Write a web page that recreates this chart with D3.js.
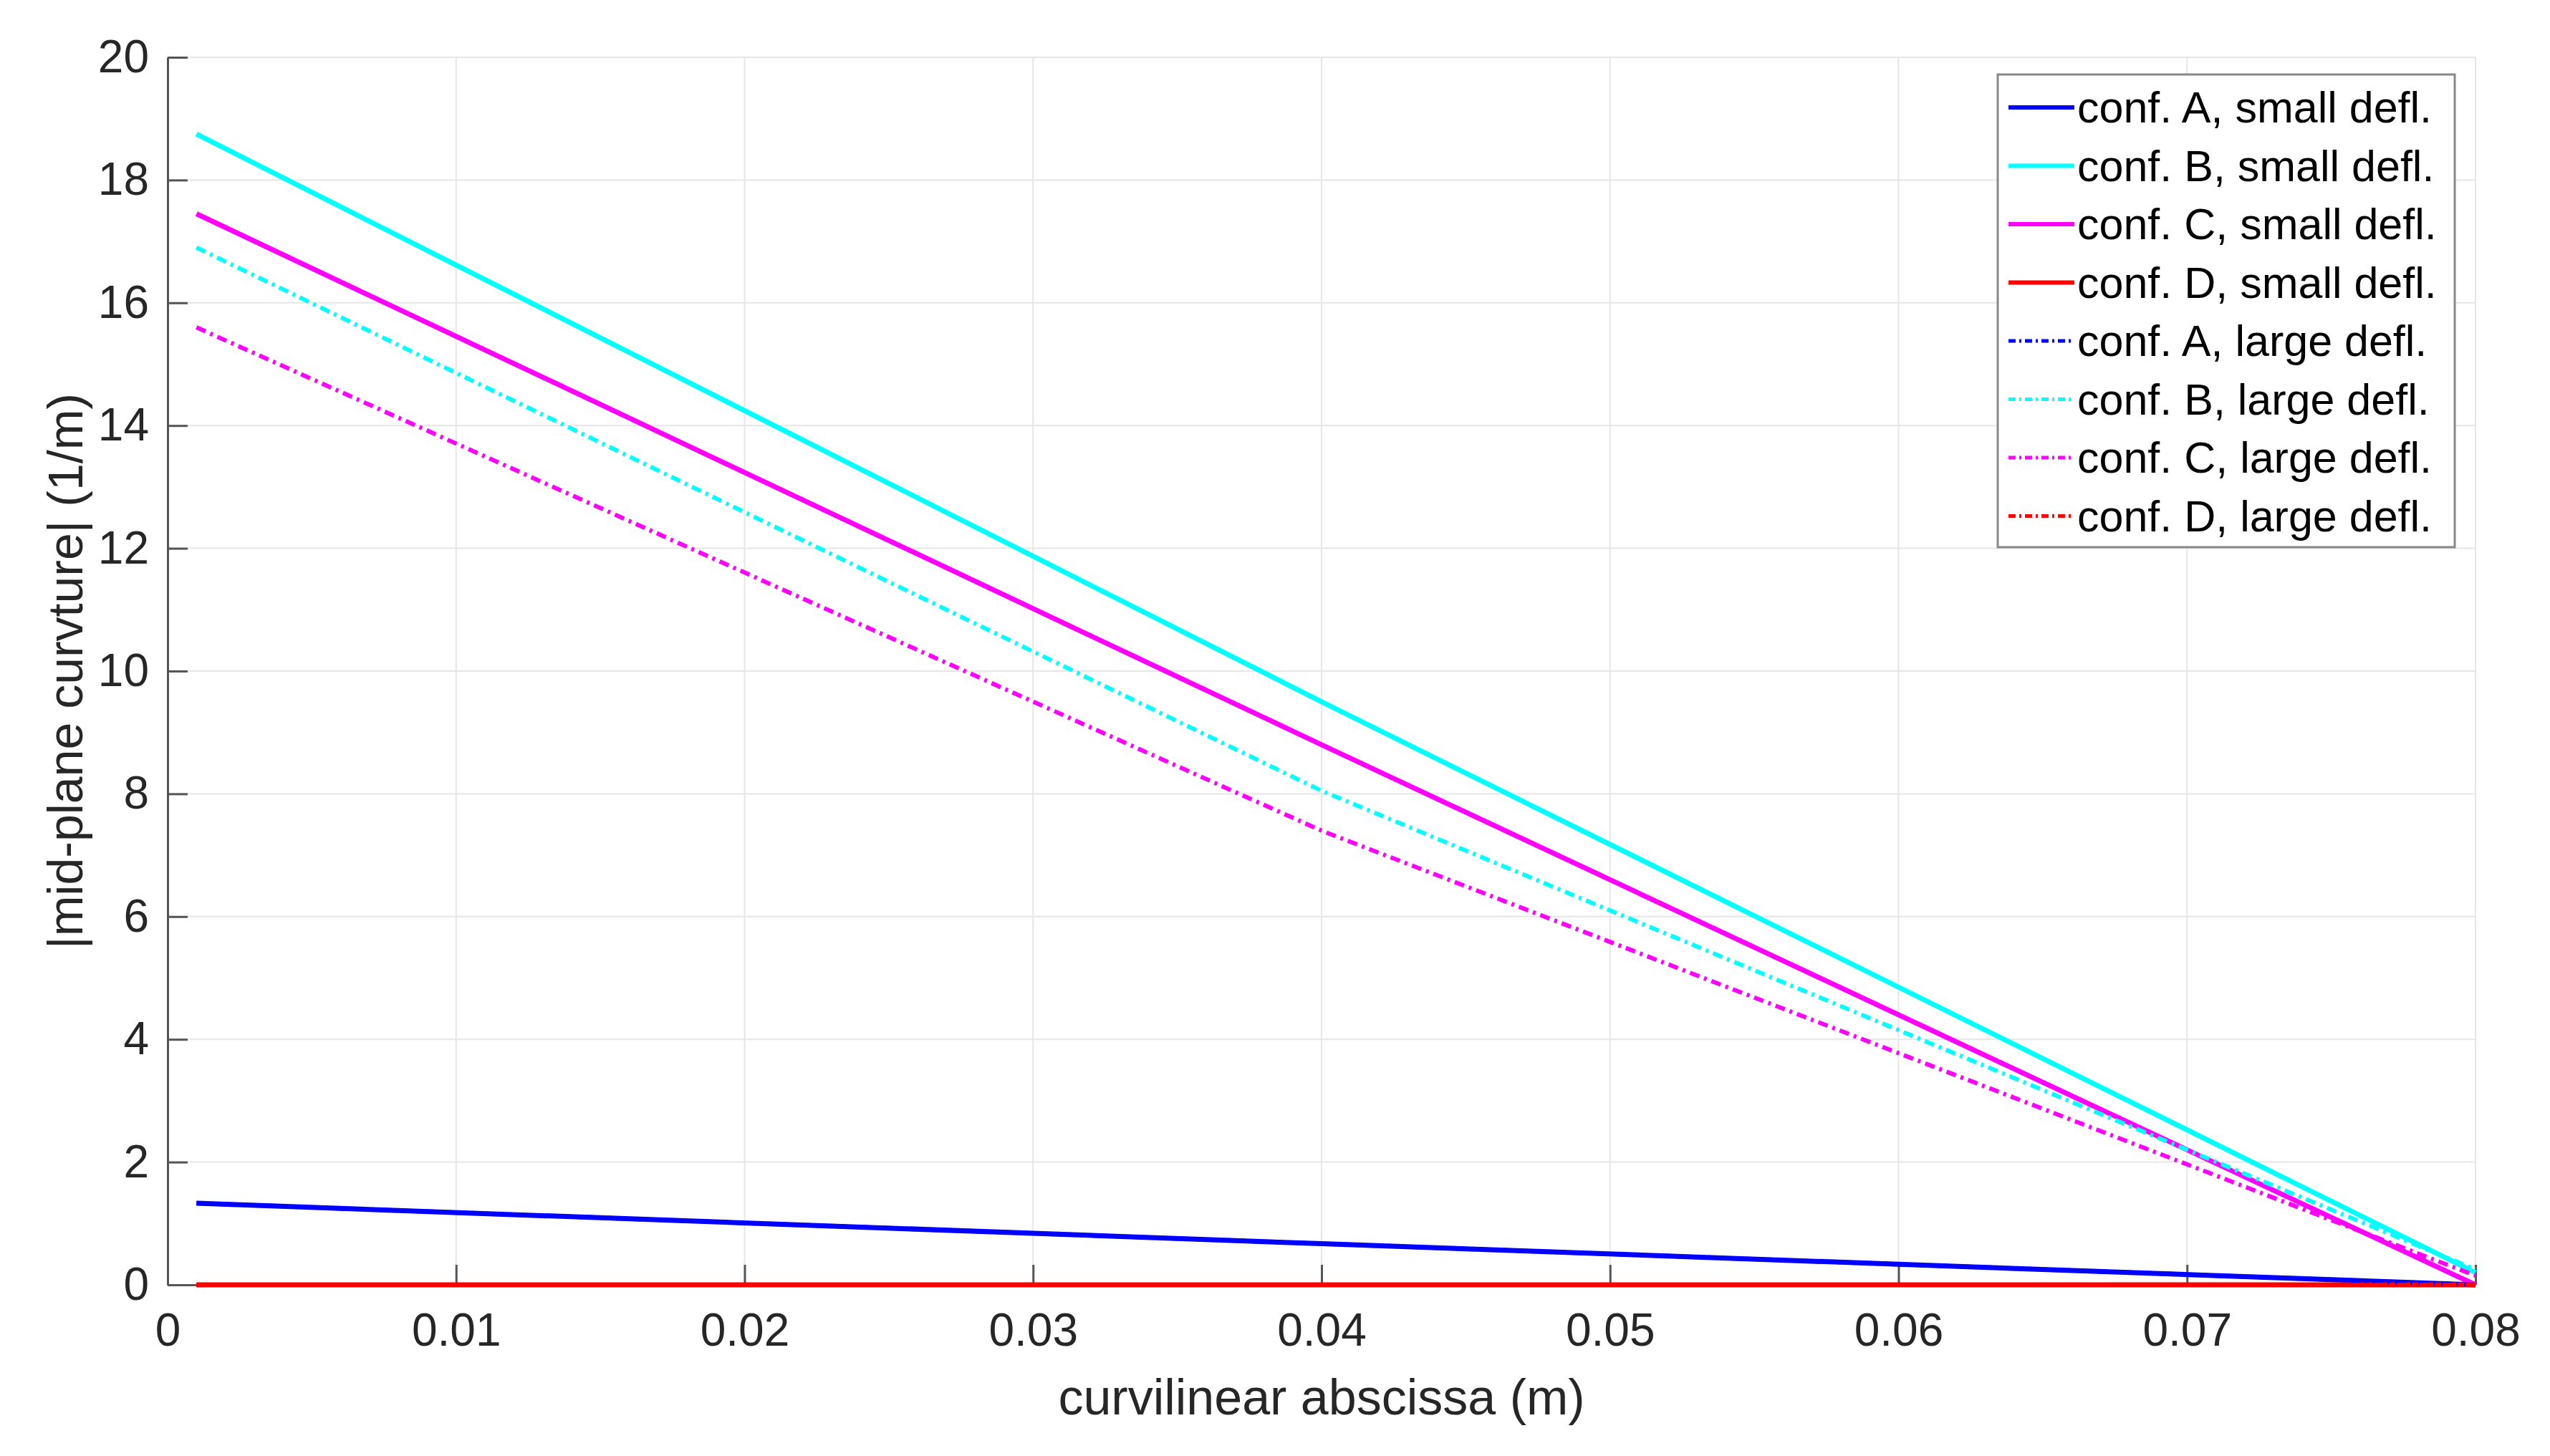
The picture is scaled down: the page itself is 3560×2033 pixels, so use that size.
<!DOCTYPE html>
<html lang="en">
<head>
<meta charset="utf-8">
<script src="https://cdn.jsdelivr.net/npm/d3@7"></script>
<style>body{margin:0;background:#fff}text{font-family:"Liberation Sans",Arial,sans-serif}</style>
</head>
<body>
<script>
// data
var xs = [0.001, 0.04, 0.08];
var aSmall = [1.33, 0.67, 0.0];
var bSmall = [18.75, 9.5, 0.2];
var cSmall = [17.45, 8.8, 0.0];
var dSmall = [0.0, 0.0, 0.0];
var aLarge = [1.33, 0.67, 0.0];
var bLarge = [16.9, 8.05, 0.25];
var cLarge = [15.6, 7.4, 0.15];
var dLarge = [0.0, 0.0, 0.0];
var xTicks = [0, 0.01, 0.02, 0.03, 0.04, 0.05, 0.06, 0.07, 0.08];
var yTicks = [0, 2, 4, 6, 8, 10, 12, 14, 16, 18, 20];

var series = [
  {name: "conf. A, small defl.", v: aSmall, c: "#0000ff", dash: null},
  {name: "conf. B, small defl.", v: bSmall, c: "#00ffff", dash: null},
  {name: "conf. C, small defl.", v: cSmall, c: "#ff00ff", dash: null},
  {name: "conf. D, small defl.", v: dSmall, c: "#ff0000", dash: null},
  {name: "conf. A, large defl.", v: aLarge, c: "#0000ff", dash: "14,7,4,7"},
  {name: "conf. B, large defl.", v: bLarge, c: "#00ffff", dash: "14,7,4,7"},
  {name: "conf. C, large defl.", v: cLarge, c: "#ff00ff", dash: "14,7,4,7"},
  {name: "conf. D, large defl.", v: dLarge, c: "#ff0000", dash: "14,7,4,7"}
];

var W = 3560, H = 2033;
var L = 234, R = 3456, T = 80, B = 1794;
var svg = d3.select("body").append("svg").attr("width", W).attr("height", H);

var x = d3.scaleLinear().domain([0, 0.08]).range([L, R]);
var y = d3.scaleLinear().domain([0, 20]).range([B, T]);

//grid
svg.append("g").selectAll("line").data(xTicks).enter().append("line")
  .attr("x1", d => x(d)).attr("x2", d => x(d)).attr("y1", T).attr("y2", B)
  .attr("stroke", "#e6e6e6").attr("stroke-width", 2);
svg.append("g").selectAll("line").data(yTicks).enter().append("line")
  .attr("x1", L).attr("x2", R).attr("y1", d => y(d)).attr("y2", d => y(d))
  .attr("stroke", "#e6e6e6").attr("stroke-width", 2);

//axes
var xa = svg.append("g").attr("transform", "translate(0," + B + ")")
  .call(d3.axisBottom(x).tickValues(xTicks).tickFormat(d => d === 0 ? "0" : d3.format(".2f")(d)).tickSizeInner(-28).tickSizeOuter(0).tickPadding(40));
var ya = svg.append("g").attr("transform", "translate(" + L + ",0)")
  .call(d3.axisLeft(y).tickValues(yTicks).tickSizeInner(-28).tickSizeOuter(0).tickPadding(26));
[xa, ya].forEach(function(a) {
  a.selectAll("path,line").attr("stroke", "#555").attr("stroke-width", 3);
  a.selectAll("text").attr("font-size", 64).attr("fill", "#262626");
});

//lines
var line = d3.line().x((d, i) => x(xs[i])).y(d => y(d));
svg.append("g").selectAll("path").data(series).enter().append("path")
  .attr("d", d => line(d.v)).attr("fill", "none")
  .attr("stroke", d => d.c).attr("stroke-width", d => d.dash ? 6 : 7)
  .attr("stroke-dasharray", d => d.dash);

//axis labels
svg.append("text").attr("x", (L + R) / 2).attr("y", 1975).attr("text-anchor", "middle")
  .attr("font-size", 70).attr("fill", "#262626").text("curvilinear abscissa (m)");
svg.append("text").attr("transform", "translate(115," + (T + B) / 2 + ") rotate(-90)")
  .attr("text-anchor", "middle").attr("font-size", 68).attr("fill", "#262626")
  .text("|mid-plane curvture| (1/m)");

//legend
var lg = svg.append("g");
lg.append("rect").attr("x", 2789).attr("y", 104).attr("width", 638).attr("height", 660)
  .attr("fill", "#fff").attr("stroke", "#888").attr("stroke-width", 3);
var row = lg.selectAll("g.r").data(series).enter().append("g")
  .attr("transform", (d, i) => "translate(2804," + (150 + i * 81.5) + ")");
row.append("line").attr("x1", 0).attr("x2", 92).attr("y1", 0).attr("y2", 0)
  .attr("stroke", d => d.c).attr("stroke-width", d => d.dash ? 5 : 6)
  .attr("stroke-dasharray", d => d.dash ? "10,5,3,5" : null);
row.append("text").attr("x", 96).attr("y", 21).attr("font-size", 61).attr("fill", "#000")
  .text(d => d.name);
</script>
</body>
</html>
